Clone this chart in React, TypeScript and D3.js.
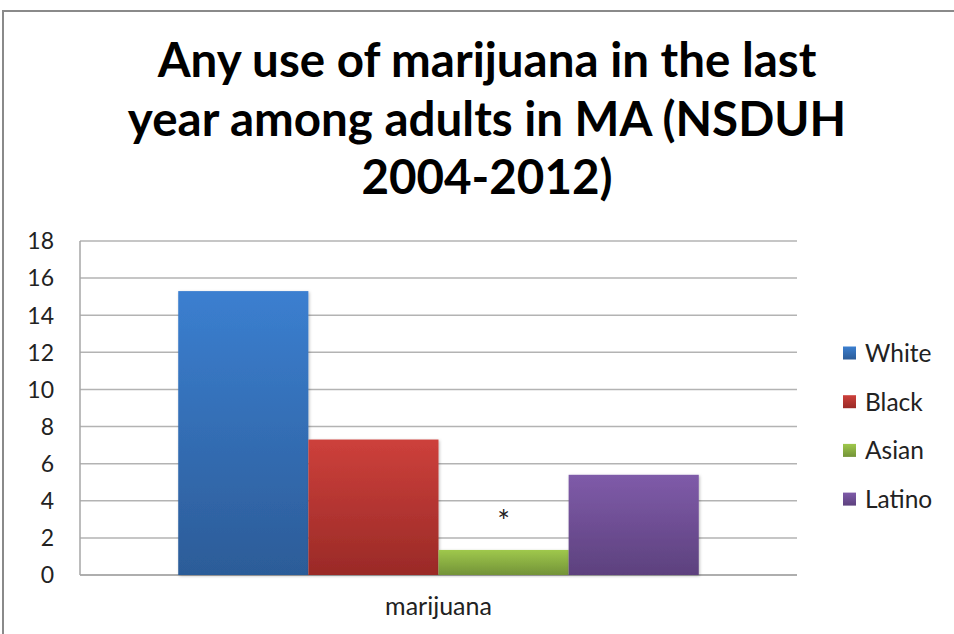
import React from "react";
import * as d3 from "d3";

const categories = ["marijuana"];
const seriesNames = ["White", "Black", "Asian", "Latino"];
const seriesValues = [15.3, 7.3, 1.35, 5.4];
const yTicks = [0, 2, 4, 6, 8, 10, 12, 14, 16, 18];
const titleLines = ["Any use of marijuana in the last", "year among adults in MA (NSDUH", "2004-2012)"];
const annotations = ["", "", "*", ""];
const gradients = [
  ["#3b7fd0", "#2c5c98"],
  ["#cd403b", "#9a2a27"],
  ["#9fc84c", "#739338"],
  ["#7f5ba9", "#5d417e"],
];

const W = 954;
const H = 634;
const plot = { left: 80, right: 797, top: 241, bottom: 575 };
const FONT = "Lato, 'Open Sans', sans-serif";

export default function App() {
  const y = d3.scaleLinear().domain([0, 18]).range([plot.bottom, plot.top]);
  const xCat = d3
    .scaleBand<string>()
    .domain(categories)
    .range([plot.left, plot.right])
    .paddingInner(0)
    .paddingOuter(0.1887);
  const xSeries = d3
    .scaleBand<string>()
    .domain(seriesNames)
    .range([0, xCat.bandwidth()])
    .padding(0);

  return (
    <svg
      width={W}
      height={H}
      style={{ position: "absolute", left: 0, top: 0, background: "#fff" }}
      fontFamily={FONT}
    >
      <defs>
        {gradients.map((g, i) => (
          <linearGradient key={i} id={`grad${i}`} x1="0" y1="0" x2="0" y2="1">
            <stop offset="0%" stopColor={g[0]} />
            <stop offset="100%" stopColor={g[1]} />
          </linearGradient>
        ))}
        <filter id="shadow" x="-10%" y="-10%" width="120%" height="120%">
          <feDropShadow dx="1" dy="1" stdDeviation="1.5" floodColor="#000" floodOpacity="0.25" />
        </filter>
      </defs>
      <rect x={3} y={11} width={1000} height={700} fill="#fff" stroke="#8a8a8a" strokeWidth={2} />

      {titleLines.map((t, i) => (
        <text
          key={i}
          x={487}
          y={77 + i * 58.5}
          textAnchor="middle"
          fontWeight="bold"
          fontSize={47.5}
          fill="#000"
        >
          {t}
        </text>
      ))}

      {yTicks.map((t) => (
        <g key={t}>
          <line
            x1={plot.left}
            x2={plot.right}
            y1={y(t)}
            y2={y(t)}
            stroke="#b3b3b3"
            strokeWidth={1.5}
          />
          <text x={54} y={y(t)} dy="0.36em" textAnchor="end" fontSize={23} fill="#222">
            {t}
          </text>
        </g>
      ))}
      <line x1={plot.left} x2={plot.left} y1={plot.top} y2={plot.bottom} stroke="#a6a6a6" strokeWidth={1.5} />
      <line x1={plot.left} x2={plot.right} y1={plot.bottom} y2={plot.bottom} stroke="#a6a6a6" strokeWidth={1.5} />

      {categories.map((c) => (
        <g key={c}>
          {seriesNames.map((s, i) => {
            const x0 = (xCat(c) ?? 0) + (xSeries(s) ?? 0);
            const v = seriesValues[i];
            return (
              <g key={s}>
                <rect
                  x={x0}
                  y={y(v)}
                  width={xSeries.bandwidth()}
                  height={y(0) - y(v)}
                  fill={`url(#grad${i})`}
                  filter="url(#shadow)"
                />
                {annotations[i] && (
                  <text
                    x={x0 + xSeries.bandwidth() / 2}
                    y={y(v) - 18}
                    textAnchor="middle"
                    fontSize={30}
                    fill="#222"
                  >
                    {annotations[i]}
                  </text>
                )}
              </g>
            );
          })}
          <text
            x={(xCat(c) ?? 0) + xCat.bandwidth() / 2}
            y={615}
            textAnchor="middle"
            fontSize={25}
            fill="#222"
          >
            {c}
          </text>
        </g>
      ))}

      {seriesNames.map((s, i) => {
        const cy = 353 + i * 48.7;
        return (
          <g key={s}>
            <rect x={843} y={cy - 6.5} width={13} height={13} fill={`url(#grad${i})`} />
            <text x={865} y={cy} dy="0.36em" fontSize={24.5} fill="#222">
              {s}
            </text>
          </g>
        );
      })}
    </svg>
  );
}
